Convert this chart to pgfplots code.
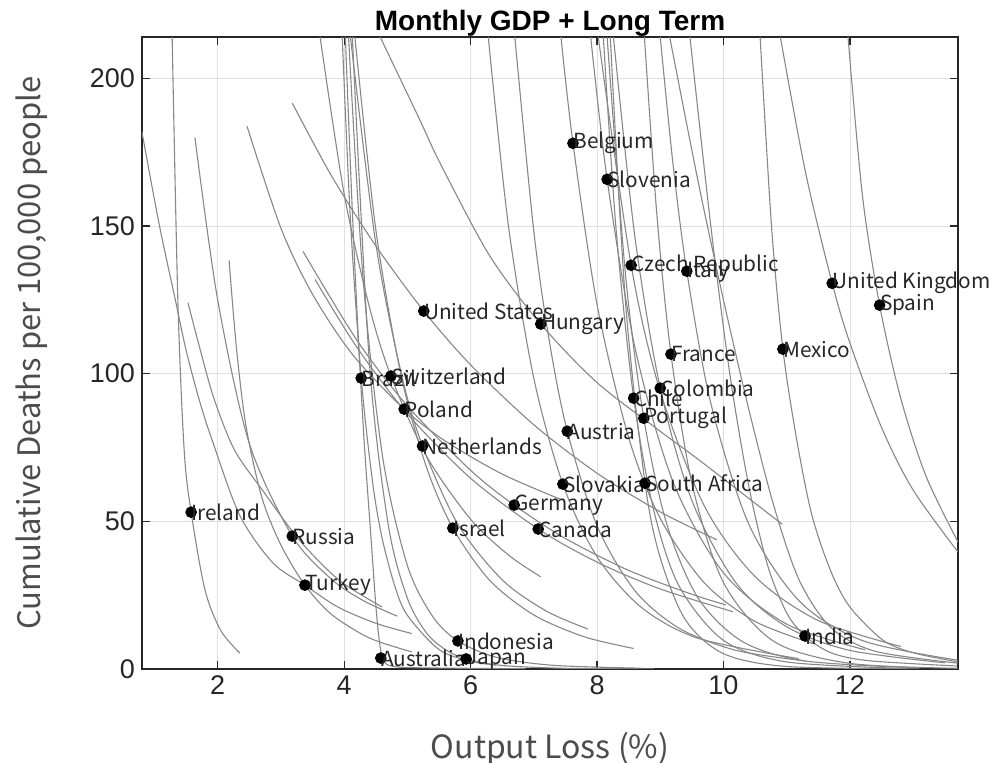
\documentclass[border=0pt]{standalone}
\usepackage{fontspec}
\setmainfont{Liberation Sans}
\newfontfamily\jp{Noto Sans CJK JP}
\usepackage{pgfplots}
\pgfplotsset{compat=1.18}
\definecolor{axgray}{RGB}{38,38,38}
\definecolor{curvegray}{RGB}{135,135,135}
\tikzset{crv/.style={curvegray, line width=0.55pt, mark=none, smooth}}

\begin{document}
\begin{tikzpicture}
\begin{axis}[
  scale only axis, width=408pt, height=316pt,
  xmin=0.803, xmax=13.71, ymin=0, ymax=214,
  xtick={2,4,...,12}, ytick={0,50,...,200},
  tick align=inside, tick pos=both, major tick length=4pt,
  grid=major, grid style={color=black!12, line width=0.4pt},
  axis line style={color=axgray, line width=0.6pt},
  tick style={color=axgray, line width=0.6pt},
  /pgf/number format/assume math mode=true,
  ticklabel style={font=\fontsize{13.5}{16}\selectfont, text=axgray},
  every axis title shift=0pt,
  title={Monthly GDP + Long Term},
  title style={font=\bfseries\fontsize{14}{16}\selectfont, at={(axis description cs:0.5,1.011)}, anchor=base},
  xlabel={Output Loss (\%)},
  ylabel={Cumulative Deaths per 100,000 people},
  xlabel style={font=\jp\fontsize{16}{18}\selectfont, text=black!70, at={(axis description cs:0.5,-0.141)}, anchor=base},
  ylabel style={font=\jp\fontsize{15.5}{18}\selectfont, text=black!70, at={(axis description cs:-0.124,0.5)}, anchor=base},
]
% left group
\addplot[crv] coordinates {(1.28,214)(1.37,124.9)(1.47,74.1)(1.58,53.1)(1.80,26.7)(2.05,13)(2.35,5.4)};
\addplot[crv] coordinates {(0.80,182)(1.08,150)(1.32,126)(1.50,108)(1.71,91)(1.92,77)(2.35,52)(2.87,36)(3.38,28.4)(3.9,21)(4.5,15.5)(5.07,12)};
\addplot[crv] coordinates {(1.64,180)(2.0,125)(2.5,76.4)(3.18,45)(3.8,30.4)(4.3,23.2)(4.84,17.9)};
\addplot[crv] coordinates {(1.53,124)(1.75,106)(1.95,91)(2.27,74)(2.74,59.6)(3.29,43.7)(3.92,30.1)(4.6,21)};
\addplot[crv] coordinates {(2.18,138.4)(2.30,108)(2.45,82)(2.7,58)(3.0,42)(3.38,28.4)(3.8,18.5)(4.4,10.5)(5.07,5.8)};
% bundle near x = 4
\addplot[crv] coordinates {(3.62,214)(4.0,160.9)(4.4,122.6)(4.74,99.2)(5.3,72.2)(6.0,50.7)(6.6,38.6)(7.11,31.2)};
\addplot[crv] coordinates {(4.02,214)(4.12,160)(4.22,114)(4.32,76)(4.42,46)(4.5,22)(4.56,9)(4.62,3)(4.75,1)(5.2,0.4)(6.87,0.1)};
\addplot[crv] coordinates {(3.97,214)(4.1,152)(4.27,98.5)(4.45,63.3)(4.6,44.4)(4.8,28.2)(5.0,18.2)(5.5,6.6)(6.0,2.6)(6.4,1.3)};
\addplot[crv] coordinates {(4.07,214)(4.3,132.2)(4.61,71.7)(5.0,35.1)(5.4,17.8)(5.8,9.5)(6.4,4.0)(7.3,1.25)(8.7,0.27)};
\addplot[crv] coordinates {(4.13,214)(4.4,103.6)(4.7,48.6)(5.0,24)(5.3,12.3)(5.6,6.6)(5.93,3.4)(6.5,1.19)(7.5,0.23)(8.9,0.03)};
\addplot[crv] coordinates {(4.10,214)(4.5,144.2)(4.9,100.4)(5.24,75.5)(5.8,49.0)(6.5,30.2)(7.2,19.6)(7.86,13.5)};
\addplot[crv] coordinates {(4.17,214)(4.5,149)(4.9,99.5)(5.3,68.5)(5.72,47.7)(6.3,30.1)(7.0,18.3)(7.8,10.9)(8.58,6.95)};
% shallow middle curves
\addplot[crv] coordinates {(2.464,183.8)(3.0,149.3)(3.5,126.9)(4.14,106.3)(4.95,88)(5.6,77.2)(6.5,66)(7.43,57.4)};
\addplot[crv] coordinates {(3.18,191.6)(3.8,167)(4.5,143.3)(5.26,121.2)(6.0,103)(7.0,82.7)(8.0,66.3)(9.0,53.2)(9.9,43.7)};
\addplot[crv] coordinates {(3.35,141.4)(4.2,111.4)(5.0,89.1)(6.0,67.3)(6.69,55.5)(7.5,44.2)(8.5,33.4)(9.5,25.3)(10.04,21.7)};
\addplot[crv] coordinates {(3.54,131.9)(4.2,109)(5.0,86.4)(6.0,64.6)(7.07,47.4)(8.0,36.2)(9.0,27.1)(10.15,19.4)};
\addplot[crv] coordinates {(4.57,214)(5.2,185.8)(5.52,171.2)(6.3,140)(7.11,116.8)(8.0,97)(9.0,80.5)(9.63,70.5)(10.93,49)};
% steep middle-right curves
\addplot[crv] coordinates {(6.70,214)(7.0,148.3)(7.25,110.5)(7.53,80.5)(8.0,48.5)(8.6,26.5)(9.3,13.8)(10.2,6.3)(11.3,2.7)};
\addplot[crv] coordinates {(6.28,214)(6.6,149.9)(7.0,98.5)(7.46,62.6)(8.0,38)(8.7,20.9)(9.6,10.4)(11.19,3.5)};
\addplot[crv] coordinates {(7.43,214)(7.62,178)(8.0,123.5)(8.5,78.4)(9.0,51)(9.7,29.1)(10.5,16.1)(11.43,8.5)};
\addplot[crv] coordinates {(7.90,214)(8.16,165.8)(8.6,108.9)(9.2,63.5)(10.0,32.6)(11.0,15.2)(12.24,6.5)};
\addplot[crv] coordinates {(8.02,214)(8.54,136.7)(9.0,94)(9.7,55.1)(10.5,31.3)(11.5,16.4)(12.81,7.6)};
\addplot[crv] coordinates {(8.10,214)(8.3,149.3)(8.58,91.7)(8.9,53.5)(9.3,28)(10.0,9.7)(11.0,2.4)(12.87,0.2)};
\addplot[crv] coordinates {(8.16,214)(8.45,133.7)(8.74,84.9)(9.1,49.3)(9.6,24)(10.3,9.3)(11.3,2.7)(13.1,0.36)};
\addplot[crv] coordinates {(8.21,214)(8.45,124.3)(8.76,62.9)(9.0,37.7)(9.4,16.6)(10.0,5.2)(11.0,0.85)(13.1,0.05)};
\addplot[crv] coordinates {(8.26,214)(8.6,146.2)(9.0,95.1)(9.5,57.1)(10.2,29.1)(11.0,14.3)(12.0,6.3)(13.5,2.1)};
\addplot[crv] coordinates {(8.75,214)(8.95,153)(9.17,106.6)(9.5,63)(10.0,29.3)(10.8,9.3)(12.0,1.9)(13.7,0.25)};
\addplot[crv] coordinates {(9.0,214)(9.2,171.4)(9.42,134.7)(9.8,90)(10.4,49.1)(11.2,23)(12.2,9.6)(13.7,3.0)};
% right group
\addplot[crv] coordinates {(9.15,214)(9.6,165)(10.0,125)(10.4,88)(10.8,55)(11.2,30)(11.7,14)(12.4,6)(13.7,2)};
\addplot[crv] coordinates {(9.47,214)(9.8,150)(10.1,100)(10.4,62)(10.7,35)(11.0,19)(11.29,11.2)(11.7,5.5)(12.3,2.8)(13.7,1)};
\addplot[crv] coordinates {(10.58,214)(10.76,150)(10.94,108.3)(11.16,77.5)(11.4,52)(11.7,33)(12.0,21)(12.52,9.8)(13.0,5.5)(13.71,2.4)};
\addplot[crv] coordinates {(10.9,214)(11.3,168)(11.72,130.6)(12.0,110.4)(12.5,81.8)(13.0,60.6)(13.71,39.6)};
\addplot[crv] coordinates {(11.97,214)(12.2,160)(12.47,123.2)(12.8,92)(13.2,65.5)(13.71,43)};
% countries
\addplot[only marks, mark=*, mark size=2.7pt, black,
  nodes near coords, point meta=explicit symbolic,
  every node near coord/.append style={anchor=west, inner sep=0pt, font=\jp\fontsize{10.4}{13}\selectfont, text=black!85}]
  table[col sep=comma, row sep=\\, x=x, y=y, meta=name] {
x,y,name\\
7.62,178.0,Belgium\\
8.16,165.8,Slovenia\\
8.54,136.7,Czech Republic\\
9.42,134.7,Italy\\
11.72,130.6,United Kingdom\\
12.47,123.2,Spain\\
5.26,121.2,United States\\
7.11,116.8,Hungary\\
9.17,106.6,France\\
10.94,108.3,Mexico\\
4.27,98.5,Brazil\\
4.74,99.2,Switzerland\\
9.00,95.1,Colombia\\
8.58,91.7,Chile\\
4.95,88.0,Poland\\
8.74,84.9,Portugal\\
7.53,80.5,Austria\\
5.24,75.5,Netherlands\\
7.46,62.6,Slovakia\\
8.76,62.9,South Africa\\
6.69,55.5,Germany\\
1.58,53.1,Ireland\\
7.07,47.4,Canada\\
5.72,47.7,Israel\\
3.18,45.0,Russia\\
3.38,28.4,Turkey\\
5.80,9.5,Indonesia\\
11.29,11.2,India\\
4.58,3.7,Australia\\
5.93,3.4,Japan\\
};
\coordinate (sw) at (rel axis cs:0,0);
\end{axis}
\pgfresetboundingbox
\path (sw) ++(-71pt,-47pt) rectangle ++(495pt,381.5pt);
\end{tikzpicture}
\end{document}
